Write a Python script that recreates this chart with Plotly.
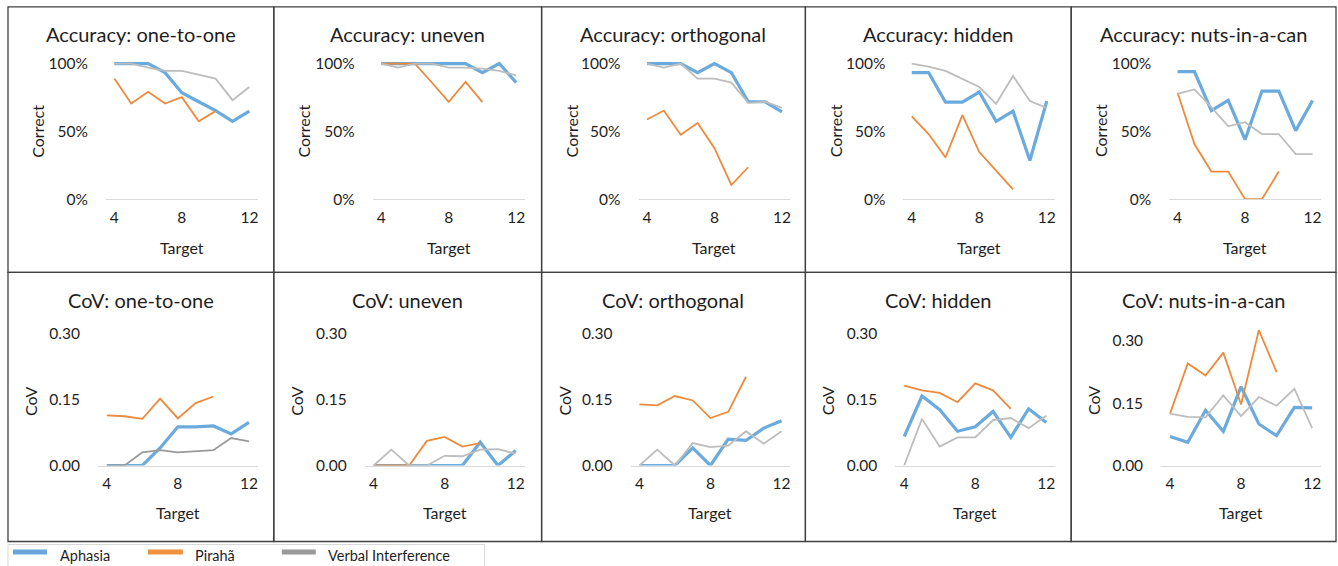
import plotly.graph_objects as go

W, H = 1338, 566

# ---------------- data ----------------
targets = [4, 5, 6, 7, 8, 9, 10, 11, 12]
targets_piraha = [4, 5, 6, 7, 8, 9, 10]
x_ticks = [4, 8, 12]
conditions = ["one-to-one", "uneven", "orthogonal", "hidden", "nuts-in-a-can"]
series_names = ["Aphasia", "Pirahã", "Verbal Interference"]

# Accuracy (fraction correct)
acc_aphasia_one_to_one = [1.00, 1.00, 1.00, 0.933, 0.785, 0.718, 0.653, 0.574, 0.649]
acc_piraha_one_to_one = [0.889, 0.705, 0.792, 0.705, 0.752, 0.574, 0.649]
acc_verbal_one_to_one = [1.00, 1.00, 0.97, 0.946, 0.946, 0.92, 0.889, 0.73, 0.827]

acc_aphasia_uneven = [1.00, 1.00, 1.00, 1.00, 1.00, 1.00, 0.933, 1.00, 0.859]
acc_piraha_uneven = [1.00, 1.00, 1.00, 0.86, 0.718, 0.864, 0.715]
acc_verbal_uneven = [1.00, 0.97, 1.00, 1.00, 0.97, 0.97, 0.963, 0.946, 0.913]

acc_aphasia_orthogonal = [1.00, 1.00, 1.00, 0.933, 1.00, 0.933, 0.718, 0.718, 0.644]
acc_piraha_orthogonal = [0.587, 0.653, 0.475, 0.562, 0.376, 0.104, 0.235]
acc_verbal_orthogonal = [1.00, 0.97, 1.00, 0.889, 0.889, 0.859, 0.71, 0.718, 0.673]

acc_aphasia_hidden = [0.933, 0.933, 0.715, 0.715, 0.79, 0.574, 0.649, 0.285, 0.723]
acc_piraha_hidden = [0.611, 0.48, 0.307, 0.619, 0.347, 0.208, 0.072]
acc_verbal_hidden = [1.00, 0.978, 0.946, 0.889, 0.827, 0.703, 0.908, 0.723, 0.673]

acc_aphasia_nuts = [0.94, 0.94, 0.653, 0.728, 0.438, 0.797, 0.797, 0.505, 0.728]
acc_piraha_nuts = [0.785, 0.406, 0.203, 0.203, 0.0, 0.0, 0.203]
acc_verbal_nuts = [0.777, 0.809, 0.678, 0.537, 0.567, 0.48, 0.48, 0.332, 0.332]

# Coefficient of variation
cov_aphasia_one_to_one = [0.0, 0.0, 0.0, 0.040, 0.088, 0.088, 0.090, 0.072, 0.098]
cov_piraha_one_to_one = [0.114, 0.112, 0.106, 0.152, 0.107, 0.142, 0.157]
cov_verbal_one_to_one = [0.0, 0.0, 0.030, 0.035, 0.030, 0.032, 0.035, 0.0625, 0.055]

cov_aphasia_uneven = [0.0, 0.0, 0.0, 0.0, 0.0, 0.0, 0.053, 0.0, 0.034]
cov_piraha_uneven = [0.0, 0.0, 0.0, 0.056, 0.065, 0.043, 0.051]
cov_verbal_uneven = [0.0, 0.036, 0.0, 0.0, 0.022, 0.021, 0.036, 0.037, 0.027]

cov_aphasia_orthogonal = [0.0, 0.0, 0.0, 0.040, 0.0, 0.060, 0.057, 0.085, 0.102]
cov_piraha_orthogonal = [0.139, 0.137, 0.158, 0.148, 0.108, 0.122, 0.202]
cov_verbal_orthogonal = [0.0, 0.036, 0.0, 0.051, 0.042, 0.045, 0.078, 0.0495, 0.078]

cov_aphasia_hidden = [0.066, 0.158, 0.127, 0.078, 0.088, 0.123, 0.064, 0.129, 0.098]
cov_piraha_hidden = [0.182, 0.171, 0.165, 0.144, 0.187, 0.171, 0.129]
cov_verbal_hidden = [0.0, 0.106, 0.043, 0.064, 0.064, 0.103, 0.108, 0.085, 0.113]

cov_aphasia_nuts = [0.070, 0.056, 0.133, 0.082, 0.190, 0.100, 0.072, 0.140, 0.139]
cov_piraha_nuts = [0.125, 0.246, 0.217, 0.272, 0.147, 0.326, 0.225]
cov_verbal_nuts = [0.125, 0.117, 0.116, 0.169, 0.119, 0.165, 0.144, 0.185, 0.090]

acc_sets = [
    (acc_aphasia_one_to_one, acc_piraha_one_to_one, acc_verbal_one_to_one),
    (acc_aphasia_uneven, acc_piraha_uneven, acc_verbal_uneven),
    (acc_aphasia_orthogonal, acc_piraha_orthogonal, acc_verbal_orthogonal),
    (acc_aphasia_hidden, acc_piraha_hidden, acc_verbal_hidden),
    (acc_aphasia_nuts, acc_piraha_nuts, acc_verbal_nuts),
]
cov_sets = [
    (cov_aphasia_one_to_one, cov_piraha_one_to_one, cov_verbal_one_to_one),
    (cov_aphasia_uneven, cov_piraha_uneven, cov_verbal_uneven),
    (cov_aphasia_orthogonal, cov_piraha_orthogonal, cov_verbal_orthogonal),
    (cov_aphasia_hidden, cov_piraha_hidden, cov_verbal_hidden),
    (cov_aphasia_nuts, cov_piraha_nuts, cov_verbal_nuts),
]

# ---------------- style / layout ----------------
FONT = "Lato"
BLUE = "#6AAADD"
ORANGE = "#EE8A3C"
GRAY_LIGHT = "#BDBDBD"
GRAY_DARK = "#999999"
TXT = "#1E1E1E"
LEGEND_COLORS = ["#6AA6DA", "#F0913F", "#9A9A9A"]

col_edges = [8, 274, 542, 806, 1072, 1337]
row_edges = [7.5, 272, 540]
acc_xdom_px = [(106, 258), (373, 525), (639, 791), (904, 1056), (1170, 1322)]
cov_xdom_px = [(98, 258), (365, 525), (631, 791), (896, 1056), (1162, 1322)]

# vertical calibration of the rendered page (measured on previous renders)
Y_OFF, Y_SCALE = 5.7, 0.973


def px_x(v):
    return v / W


def px_y(v):
    return 1 - ((v - Y_OFF) / Y_SCALE) / H


fig = go.Figure()
layout = {}
annotations = []
shapes = []

panel = 0
for row in range(2):
    for col in range(5):
        panel += 1
        ax = "" if panel == 1 else str(panel)
        xa, ya = "x" + ax, "y" + ax
        if row == 0:
            data = acc_sets[col]
            x0, x1 = acc_xdom_px[col]
            y_bottom, per_unit = 199.0, 135.0
            yr = [0, 1.04]
            yticks = [0, 0.5, 1.0]
            ytext = ["0%", "50%", "100%"]
            title = "Accuracy: " + conditions[col]
            ytitle = "Correct"
            title_y = 35
            ytitle_x = col_edges[col] + 30
            ytitle_y = 131
            xlab_y = 247
            gray = GRAY_LIGHT
        else:
            data = cov_sets[col]
            x0, x1 = cov_xdom_px[col]
            y_bottom = 464.3
            if col == 4:
                per_unit = 413.3
                yr = [0, 0.35]
            else:
                per_unit = 437.7
                yr = [0, 0.31]
            yticks = [0, 0.15, 0.30]
            ytext = ["0.00", "0.15", "0.30"]
            title = "CoV: " + conditions[col]
            ytitle = "CoV"
            title_y = 299.5
            ytitle_x = col_edges[col] + 23
            ytitle_y = 400
            xlab_y = 511.5
            gray = GRAY_DARK if col == 0 else GRAY_LIGHT
        y_top = y_bottom - per_unit * yr[1]

        widths = [3.2, 1.8, 1.8]
        colors = [BLUE, ORANGE, gray]
        xs = [targets, targets_piraha, targets]
        for k in range(3):
            fig.add_trace(go.Scatter(
                x=xs[k], y=data[k], mode="lines", name=series_names[k],
                line=dict(color=colors[k], width=widths[k]),
                xaxis=xa, yaxis=ya, showlegend=False, hoverinfo="skip"))

        layout["xaxis" + ax] = dict(
            domain=[px_x(x0), px_x(x1)], anchor=ya, range=[3.5, 12.5],
            tickmode="array", tickvals=x_ticks, ticktext=[str(t) for t in x_ticks],
            showgrid=False, zeroline=False, showline=True, linecolor="#D9D9D9",
            linewidth=1, ticks="", ticklabelstandoff=4,
            tickfont=dict(family=FONT, size=15.5, color=TXT), fixedrange=True)
        layout["yaxis" + ax] = dict(
            domain=[px_y(y_bottom), px_y(y_top)], anchor=xa, range=yr,
            tickmode="array", tickvals=yticks, ticktext=ytext,
            showgrid=False, zeroline=False, showline=False, ticks="",
            ticklabelstandoff=17,
            tickfont=dict(family=FONT, size=15.5, color=TXT), fixedrange=True)

        cx = (col_edges[col] + col_edges[col + 1]) / 2
        annotations.append(dict(
            text=title, x=px_x(cx), y=px_y(title_y), xref="paper", yref="paper",
            xanchor="center", yanchor="middle", showarrow=False,
            font=dict(family=FONT, size=20, color=TXT)))
        annotations.append(dict(
            text=ytitle, x=px_x(ytitle_x), y=px_y(ytitle_y), xref="paper", yref="paper",
            xanchor="center", yanchor="middle", showarrow=False, textangle=-90,
            font=dict(family=FONT, size=16, color=TXT)))
        annotations.append(dict(
            text="Target", x=px_x((x0 + x1) / 2), y=px_y(xlab_y), xref="paper", yref="paper",
            xanchor="center", yanchor="middle", showarrow=False,
            font=dict(family=FONT, size=16, color=TXT)))

        shapes.append(dict(
            type="rect", xref="paper", yref="paper",
            x0=px_x(col_edges[col]), x1=px_x(col_edges[col + 1]),
            y0=px_y(row_edges[row + 1]), y1=px_y(row_edges[row]),
            line=dict(color="#404040", width=1.3), fillcolor="rgba(0,0,0,0)"))

# ---------------- legend (drawn as a boxed key under the panels) ----------------
legend_box = (8, 485, 543, 575)
legend_swatch_x = [(13, 47), (148, 183), (282, 316)]
legend_text_x = [58, 193, 326]
legend_swatch_y = 550.5
legend_text_y = 554.0

shapes.append(dict(
    type="rect", xref="paper", yref="paper",
    x0=px_x(legend_box[0]), x1=px_x(legend_box[1]),
    y0=px_y(legend_box[3]), y1=px_y(legend_box[2]),
    line=dict(color="#D9D9D9", width=1), fillcolor="rgba(0,0,0,0)"))
for name, c, (sx0, sx1), tx in zip(series_names, LEGEND_COLORS, legend_swatch_x, legend_text_x):
    shapes.append(dict(
        type="line", xref="paper", yref="paper",
        x0=px_x(sx0), x1=px_x(sx1), y0=px_y(legend_swatch_y), y1=px_y(legend_swatch_y),
        line=dict(color=c, width=5)))
    annotations.append(dict(
        text=name, x=px_x(tx), y=px_y(legend_text_y), xref="paper", yref="paper",
        xanchor="left", yanchor="middle", showarrow=False,
        font=dict(family=FONT, size=14.5, color=TXT)))

fig.update_layout(
    autosize=True,
    margin=dict(l=0, r=0, t=0, b=0),
    paper_bgcolor="white", plot_bgcolor="white",
    showlegend=False,
    annotations=annotations, shapes=shapes,
    **layout,
)

fig.write_html(
    "out.html",
    default_width="100vw",
    default_height="100vh",
    config={"displayModeBar": False, "responsive": True},
    post_script=(
        "document.documentElement.style.margin='0';"
        "document.documentElement.style.overflow='hidden';"
        "document.body.style.margin='0';"
        "document.body.style.overflow='hidden';"
        "var d=document.getElementById('{plot_id}');"
        "d.style.position='fixed';d.style.top='0';d.style.left='0';"
    ),
)
